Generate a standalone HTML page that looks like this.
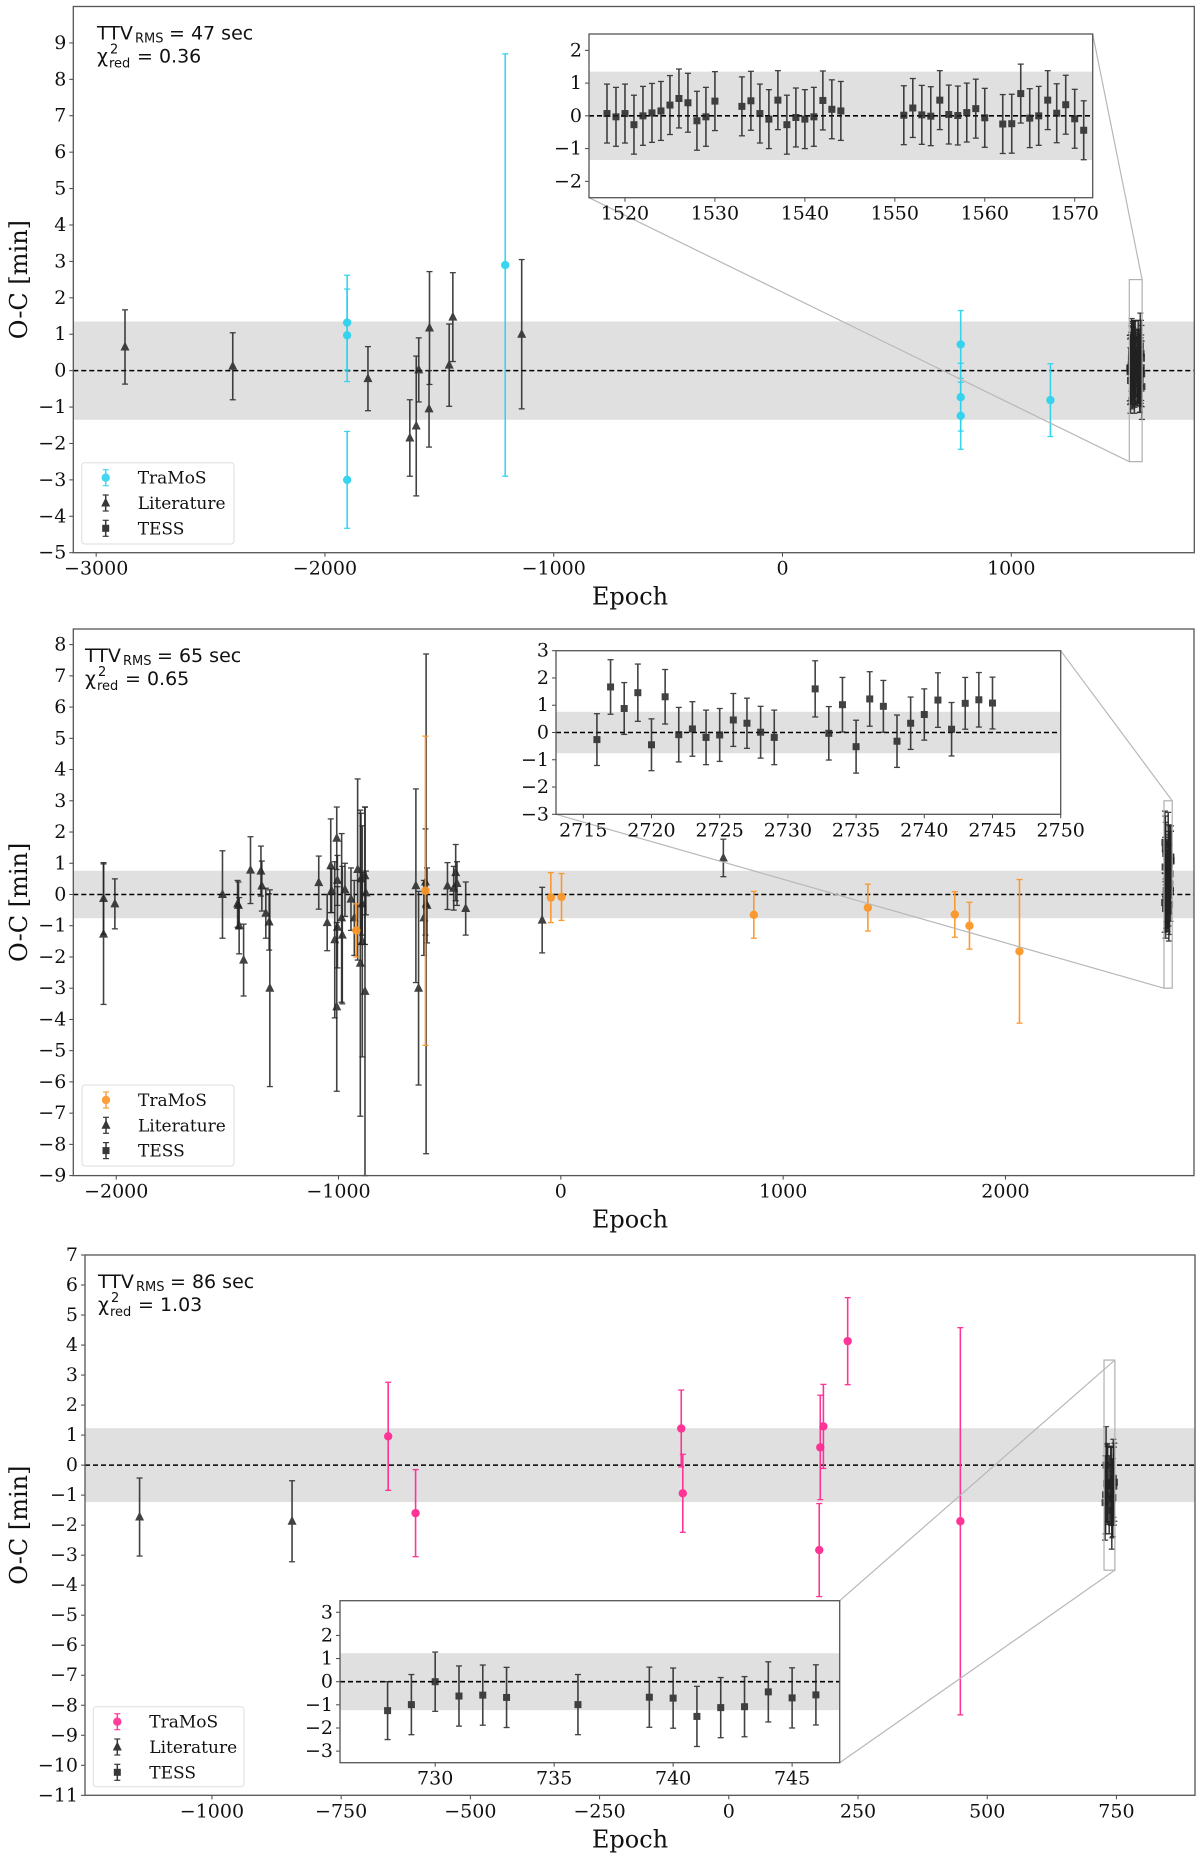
<!DOCTYPE html>
<html><head><meta charset="utf-8"><title>O-C diagrams</title>
<style>
html,body{margin:0;padding:0;background:#fff;}
svg{display:block;}
text{font-family:"DejaVu Serif","Liberation Serif",serif;}
.sans{font-family:"DejaVu Sans","Liberation Sans",sans-serif;}
</style></head>
<body>
<svg id="fig" width="1200" height="1857" viewBox="0 0 1200 1857" xmlns="http://www.w3.org/2000/svg"></svg>
<script>
// ---------- Panel 1 data ----------
const p1LitEpoch=[-2874,-2403,-1812,-1629,-1601,-1590,-1543,-1545,-1457,-1441,-1140];
const p1LitVal=[0.65,0.12,-0.22,-1.85,-1.52,0.02,1.17,-1.05,0.15,1.47,1.0];
const p1LitErr=[1.02,0.92,0.88,1.05,1.92,0.88,1.55,1.05,1.13,1.22,2.05];
const p1TraEpoch=[-1903,-1903,-1903,-1212,779,779,779,1171];
const p1TraVal=[1.32,0.97,-3.0,2.9,0.72,-0.73,-1.24,-0.81];
const p1TraErr=[1.3,1.27,1.33,5.8,0.93,0.93,0.92,1.0];
const p1TessEpoch=[1518,1519,1520,1521,1522,1523,1524,1525,1526,1527,1528,1529,1530,1533,1534,1535,1536,1537,1538,1539,1540,1541,1542,1543,1544,1551,1552,1553,1554,1555,1556,1557,1558,1559,1560,1562,1563,1564,1565,1566,1567,1568,1569,1570,1571];
const p1TessVal=[0.07,-0.03,0.07,-0.27,0.0,0.09,0.15,0.33,0.53,0.4,-0.15,-0.03,0.45,0.29,0.46,0.07,-0.1,0.48,-0.27,-0.05,-0.1,-0.03,0.47,0.2,0.15,0.02,0.24,0.03,-0.01,0.48,0.04,0.01,0.1,0.22,-0.06,-0.25,-0.24,0.68,-0.07,0.0,0.48,0.08,0.34,-0.09,-0.44];
const p1TessErr=[0.9,0.9,0.9,0.9,0.9,0.9,0.9,0.9,0.9,0.9,0.9,0.9,0.9,0.9,0.9,0.9,0.9,0.9,0.9,0.9,0.9,0.9,0.9,0.9,0.9,0.9,0.9,0.9,0.9,0.9,0.9,0.9,0.9,0.9,0.9,0.9,0.9,0.9,0.9,0.9,0.9,0.9,0.9,0.9,0.9];
const p1XTicks=[-3000,-2000,-1000,0,1000];
const p1YTicks=[-5,-4,-3,-2,-1,0,1,2,3,4,5,6,7,8,9];
const p1InXTicks=[1520,1530,1540,1550,1560,1570];
const p1InYTicks=[-2,-1,0,1,2];

// ---------- Panel 2 data ----------
const p2LitEpoch=[-2057,-2057,-2006,-1522,-1454,-1450,-1447,-1427,-1396,-1349,-1345,-1327,-1312,-1309,-1089,-1051,-1035,-1031,-1017,-1008,-1008,-1005,-1005,-986,-983,-971,-944,-929,-914,-902,-899,-894,-893,-881,-881,-877,-652,-640,-616,-609,-606,-602,-510,-482,-473,-467,-428,-84,731];
const p2LitVal=[-0.13,-1.27,-0.3,0.0,-0.3,-0.35,-1.0,-2.1,0.78,0.75,0.27,-0.6,-0.88,-3.0,0.38,-0.9,0.92,0.12,-1.45,1.8,-3.6,0.45,-1.05,-0.75,-1.3,0.15,-0.15,-0.75,0.8,-2.2,0.5,-0.3,-1.5,-3.1,0.6,0.05,0.28,-3.0,-0.75,0.4,-0.3,-0.35,0.27,0.2,0.7,0.35,-0.45,-0.82,1.17];
const p2LitErr=[1.15,2.25,0.8,1.4,0.75,0.75,0.9,1.15,1.07,0.8,0.8,0.8,0.9,3.15,0.85,0.9,1.5,0.7,2.5,1.0,2.7,0.8,1.3,2.7,2.2,0.85,1.0,1.2,2.9,4.9,2.1,1.0,3.7,5.9,2.2,0.7,3.1,3.1,1.2,1.7,8.0,1.2,0.75,0.7,0.9,0.7,0.85,1.05,0.6];
const p2TraEpoch=[-920,-609,-45,3,868,1381,1772,1838,2063];
const p2TraVal=[-1.15,0.12,-0.1,-0.08,-0.65,-0.42,-0.64,-1.0,-1.82];
const p2TraErr=[0.85,4.95,0.8,0.75,0.75,0.75,0.73,0.75,2.3];
const p2TessEpoch=[2716,2717,2718,2719,2720,2721,2722,2723,2724,2725,2726,2727,2728,2729,2732,2733,2734,2735,2736,2737,2738,2739,2740,2741,2742,2743,2744,2745];
const p2TessVal=[-0.26,1.67,0.88,1.46,-0.45,1.31,-0.08,0.13,-0.18,-0.09,0.46,0.34,0.01,-0.18,1.6,-0.03,1.02,-0.52,1.23,0.96,-0.32,0.34,0.66,1.19,0.12,1.07,1.2,1.08];
const p2TessErr=[0.95,1.0,0.95,1.05,0.95,1.0,1.0,1.0,1.0,0.97,0.97,0.92,0.95,1.0,1.03,0.98,1.0,0.97,1.0,0.95,0.96,0.96,0.94,1.0,0.98,0.95,1.0,0.95];
const p2XTicks=[-2000,-1000,0,1000,2000];
const p2YTicks=[-9,-8,-7,-6,-5,-4,-3,-2,-1,0,1,2,3,4,5,6,7,8];
const p2InXTicks=[2715,2720,2725,2730,2735,2740,2745,2750];
const p2InYTicks=[-3,-2,-1,0,1,2,3];

// ---------- Panel 3 data ----------
const p3LitEpoch=[-1140,-845];
const p3LitVal=[-1.73,-1.87];
const p3LitErr=[1.3,1.35];
const p3TraEpoch=[-659,-606,-92,-89,175,177,183,230,448];
const p3TraVal=[0.96,-1.6,1.22,-0.94,-2.83,0.59,1.29,4.13,-1.87];
const p3TraErr=[1.8,1.45,1.28,1.3,1.55,1.74,1.4,1.45,6.45];
const p3TessEpoch=[728,729,730,731,732,733,736,739,740,741,742,743,744,745,746];
const p3TessVal=[-1.25,-0.99,0.0,-0.62,-0.58,-0.68,-0.99,-0.67,-0.71,-1.5,-1.12,-1.08,-0.44,-0.7,-0.57];
const p3TessErr=[1.25,1.3,1.28,1.3,1.3,1.3,1.3,1.3,1.3,1.3,1.3,1.3,1.3,1.3,1.3];
const p3XTicks=[-1000,-750,-500,-250,0,250,500,750];
const p3YTicks=[-11,-10,-9,-8,-7,-6,-5,-4,-3,-2,-1,0,1,2,3,4,5,6,7];
const p3InXTicks=[730,735,740,745];
const p3InYTicks=[-3,-2,-1,0,1,2,3];

const NS='http://www.w3.org/2000/svg';
const svg=document.getElementById('fig');
function el(tag,attrs,parent){const e=document.createElementNS(NS,tag);for(const k in attrs)e.setAttribute(k,attrs[k]);(parent||svg).appendChild(e);return e;}
function fmt(v){return v<0?'\u2212'+Math.abs(v):String(v);}
function mkAxes(box,xl,yl){
  const [L,T,R,B]=box;
  return {L,T,R,B,
    sx:v=>L+(v-xl[0])/(xl[1]-xl[0])*(R-L),
    sy:v=>B-(v-yl[0])/(yl[1]-yl[0])*(B-T)};
}
function drawSeries(g,ax,ep,val,err,color,marker,op,name){
  for(let i=0;i<ep.length;i++){
    const x=ax.sx(ep[i]),y=ax.sy(val[i]),y1=ax.sy(val[i]+err[i]),y2=ax.sy(val[i]-err[i]);
    const grp=el('g',{opacity:op},g);
    
    
    el('line',{x1:x,x2:x,y1:y1,y2:y2,stroke:color,'stroke-width':1.6},grp);
    el('line',{x1:x-3,x2:x+3,y1:y1,y2:y1,stroke:color,'stroke-width':1.3},grp);
    el('line',{x1:x-3,x2:x+3,y1:y2,y2:y2,stroke:color,'stroke-width':1.3},grp);
    drawMarker(grp,x,y,color,marker);
  }
}
function drawMarker(g,x,y,color,marker){
  if(marker==='o')el('circle',{cx:x,cy:y,r:4.2,fill:color},g);
  else if(marker==='^')el('polygon',{points:`${x},${y-5.5} ${x-4.5},${y+3.5} ${x+4.5},${y+3.5}`,fill:color},g);
  else el('rect',{x:x-3.5,y:y-3.5,width:7,height:7,fill:color},g);
}
function axesFrame(g,ax,xt,yt,xfmt,fs){
  const {L,T,R,B}=ax;
  for(const v of xt){const x=ax.sx(v);
    el('line',{x1:x,x2:x,y1:B,y2:B+4,stroke:'#444','stroke-width':1},g);
    const t=el('text',{x:x,y:B+22,'font-size':fs,'text-anchor':'middle',fill:'#111'},g);t.textContent=fmt(v);
    
    
  }
  for(const v of yt){const y=ax.sy(v);
    el('line',{x1:L-4,x2:L,y1:y,y2:y,stroke:'#444','stroke-width':1},g);
    const t=el('text',{x:L-7,y:y+6,'font-size':fs,'text-anchor':'end',fill:'#111'},g);t.textContent=fmt(v);
    
    
  }
  el('rect',{x:L,y:T,width:R-L,height:B-T,fill:'none',stroke:'#555','stroke-width':1.3},g);
}
function bandAndZero(g,ax,band){
  const b=el('rect',{x:ax.L,y:ax.sy(band),width:ax.R-ax.L,height:ax.sy(-band)-ax.sy(band),fill:'#e0e0e0'},g);
  
  
  const z=el('line',{x1:ax.L,x2:ax.R,y1:ax.sy(0),y2:ax.sy(0),stroke:'#000','stroke-width':1.6,'stroke-dasharray':'5,3'},g);
  
  
}
function panel(c){
  const g=el('g',{});
  
  
  const ax=mkAxes(c.box,c.xl,c.yl);
  bandAndZero(g,ax,c.band);
  drawSeries(g,ax,c.lit[0],c.lit[1],c.lit[2],'#222','^',0.85,'literature');
  drawSeries(g,ax,c.tra[0],c.tra[1],c.tra[2],c.color,'o',0.95,'tramos');
  drawSeries(g,ax,c.tess[0],c.tess[1],c.tess[2],'#222','s',0.85,'tess');
  const rx1=ax.sx(c.ixl[0]),rx2=ax.sx(c.ixl[1]),ry1=ax.sy(c.iyl[1]),ry2=ax.sy(c.iyl[0]);
  const zr=el('rect',{x:rx1,y:ry1,width:rx2-rx1,height:ry2-ry1,fill:'none',stroke:'#b0b0b0','stroke-width':1.2},g);
  
  
  const [iL,iT,iR,iB]=c.ibox;
  const ic={bl:[iL,iB],tr:[iR,iT],br:[iR,iB],tl:[iL,iT]};
  const rc={bl:[rx1,ry2],tr:[rx2,ry1],br:[rx2,ry2],tl:[rx1,ry1]};
  for(const k of c.conn){
    const ln=el('line',{x1:ic[k][0],y1:ic[k][1],x2:rc[k][0],y2:rc[k][1],stroke:'#b8b8b8','stroke-width':1.2},g);
    
    
  }
  axesFrame(g,ax,c.xt,c.yt,null,19);
  const ig=el('g',{},g);
  
  
  const iax=mkAxes(c.ibox,c.ixl,c.iyl);
  el('rect',{x:iL,y:iT,width:iR-iL,height:iB-iT,fill:'#fff'},ig);
  bandAndZero(ig,iax,c.band);
  drawSeries(ig,iax,c.tess[0],c.tess[1],c.tess[2],'#222','s',0.85,'tess-inset');
  axesFrame(ig,iax,c.ixt,c.iyt,null,19);
  const yl=el('text',{x:0,y:0,'font-size':24,'text-anchor':'middle',transform:`translate(${c.ylx},${(c.box[1]+c.box[3])/2}) rotate(-90)`,fill:'#111'},g);
  yl.textContent='O-C [min]';
  
  
  const xlb=el('text',{x:630,y:c.box[3]+52,'font-size':24,'text-anchor':'middle',fill:'#111'},g);
  xlb.textContent='Epoch';
  
  
  const ax0=c.annX,ay=c.box[1]+33;
  const an=el('g',{class:'sans'},g);
  
  
  let t=el('text',{x:ax0,y:ay,'font-size':19,class:'sans',fill:'#111'},an);t.textContent='TTV';
  t=el('text',{x:ax0+38,y:ay+3,'font-size':13,class:'sans',fill:'#111'},an);t.textContent='RMS';
  t=el('text',{x:ax0+72,y:ay,'font-size':19,class:'sans',fill:'#111'},an);t.textContent='= '+c.ttv+' sec';
  t=el('text',{x:ax0,y:ay+23,'font-size':19,class:'sans',fill:'#111'},an);t.textContent='\u03c7';
  t=el('text',{x:ax0+13,y:ay+14,'font-size':13,class:'sans',fill:'#111'},an);t.textContent='2';
  t=el('text',{x:ax0+12,y:ay+28,'font-size':13,class:'sans',fill:'#111'},an);t.textContent='red';
  t=el('text',{x:ax0+40,y:ay+23,'font-size':19,class:'sans',fill:'#111'},an);t.textContent='= '+c.chi;
  const [lx,ly,lw,lh]=c.leg;
  const lg=el('g',{},g);
  
  
  el('rect',{x:lx,y:ly,width:lw,height:lh,rx:3,fill:'#fff','fill-opacity':0.85,stroke:'#ddd','stroke-width':1},lg);
  const ents=[['TraMoS',c.color,'o'],['Literature','#222','^'],['TESS','#222','s']];
  ents.forEach((e,i)=>{
    const ey=ly+15+i*25.3,mx=lx+24;
    const eg=el('g',{opacity:0.9},lg);
    
    
    el('line',{x1:mx,x2:mx,y1:ey-8,y2:ey+8,stroke:e[1],'stroke-width':1.5},eg);
    el('line',{x1:mx-3,x2:mx+3,y1:ey-8,y2:ey-8,stroke:e[1],'stroke-width':1.2},eg);
    el('line',{x1:mx-3,x2:mx+3,y1:ey+8,y2:ey+8,stroke:e[1],'stroke-width':1.2},eg);
    drawMarker(eg,mx,ey,e[1],e[2]);
    const tx=el('text',{x:lx+56,y:ey+6,'font-size':17,fill:'#111'},lg);tx.textContent=e[0];
  });
}
panel({name:'panel-1',box:[73.3,6.5,1194.3,552.7],xl:[-3100,1800],yl:[-5,10],band:1.35,color:'#2ed3ee',
  lit:[p1LitEpoch,p1LitVal,p1LitErr],tra:[p1TraEpoch,p1TraVal,p1TraErr],tess:[p1TessEpoch,p1TessVal,p1TessErr],
  xt:p1XTicks,yt:p1YTicks,ibox:[589,34,1092.7,197.7],ixl:[1516,1572],iyl:[-2.5,2.5],ixt:p1InXTicks,iyt:p1InYTicks,
  conn:['bl','tr'],ylx:27,annX:97,ttv:47,chi:'0.36',leg:[81.7,462.7,152.3,81.3]});
panel({name:'panel-2',box:[73.3,629,1194,1175.6],xl:[-2193,2848],yl:[-9,8.5],band:0.76,color:'#fb9628',
  lit:[p2LitEpoch,p2LitVal,p2LitErr],tra:[p2TraEpoch,p2TraVal,p2TraErr],tess:[p2TessEpoch,p2TessVal,p2TessErr],
  xt:p2XTicks,yt:p2YTicks,ibox:[556,650.7,1060.7,814.3],ixl:[2713,2750],iyl:[-3,3],ixt:p2InXTicks,iyt:p2InYTicks,
  conn:['bl','tr'],ylx:27,annX:85,ttv:65,chi:'0.65',leg:[82,1085,152,81]});
panel({name:'panel-3',box:[85,1255,1195,1795.3],xl:[-1245.6,902],yl:[-11,7],band:1.23,color:'#ff2a92',
  lit:[p3LitEpoch,p3LitVal,p3LitErr],tra:[p3TraEpoch,p3TraVal,p3TraErr],tess:[p3TessEpoch,p3TessVal,p3TessErr],
  xt:p3XTicks,yt:p3YTicks,ibox:[340,1600.7,839.7,1762.7],ixl:[726,747],iyl:[-3.5,3.5],ixt:p3InXTicks,iyt:p3InYTicks,
  conn:['tr','br'],ylx:27,annX:98,ttv:86,chi:'1.03',leg:[93.3,1706.7,150.7,80]});
</script>
</body></html>
